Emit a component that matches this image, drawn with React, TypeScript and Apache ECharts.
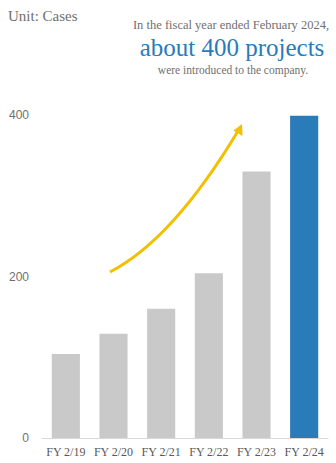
import React, { useEffect, useRef } from "react";
import * as echarts from "echarts";

const categories = ["FY 2/19", "FY 2/20", "FY 2/21", "FY 2/22", "FY 2/23", "FY 2/24"];
const values = [104, 129, 160, 204, 330, 399];
const barColors = ["#c9c9c9", "#c9c9c9", "#c9c9c9", "#c9c9c9", "#c9c9c9", "#2a7bba"];
const yTicks = [0, 200, 400];

export default function App() {
  const ref = useRef<HTMLDivElement>(null);
  useEffect(() => {
    if (!ref.current) return;
    const chart = echarts.init(ref.current, undefined, { renderer: "svg" });
    const serif = "Liberation Serif";
    const txt = (text: string, x: number, y: number, size: number, fill: string) => ({
      type: "text",
      x,
      y,
      style: {
        text,
        fill,
        fontFamily: serif,
        fontSize: size,
        textAlign: "center",
        textVerticalAlign: "middle",
      },
    });
    chart.setOption({
      animation: false,
      backgroundColor: "#ffffff",
      grid: { left: 42, right: 8, top: 115, bottom: 25, containLabel: false },
      xAxis: {
        type: "category",
        data: categories,
        axisLine: { show: true, lineStyle: { color: "#d9d9d9", width: 1 } },
        axisTick: { show: false },
        axisLabel: { color: "#595959", fontFamily: serif, fontSize: 12, margin: 8, interval: 0, hideOverlap: false },
      },
      yAxis: {
        type: "value",
        min: yTicks[0],
        max: yTicks[yTicks.length - 1],
        interval: 200,
        splitLine: { show: false },
        axisLine: { show: false },
        axisTick: { show: false },
        axisLabel: { color: "#6f6f6f", fontFamily: "Liberation Sans", fontSize: 12, margin: 13 },
      },
      series: [
        {
          type: "bar",
          data: values.map((v, i) => ({ value: v, itemStyle: { color: barColors[i] } })),
          barCategoryGap: "41%",
        },
      ],
      graphic: [
        {
          type: "text",
          x: 8,
          y: 16,
          style: { text: "Unit: Cases", fill: "#6f6f6f", fontFamily: serif, fontSize: 15, textAlign: "left", textVerticalAlign: "middle" },
        },
        txt("In the fiscal year ended February 2024,", 231, 25, 12.5, "#6f6f6f"),
        txt("about 400 projects", 232, 47, 25, "#2a7bba"),
        txt("were introduced to the company.", 233, 70, 11.5, "#6f6f6f"),
        {
          type: "bezierCurve",
          shape: { x1: 110, y1: 272, cpx1: 160, cpy1: 246, cpx2: 205, cpy2: 186, x2: 238, y2: 131 },
          style: { stroke: "#f2c000", lineWidth: 3, fill: "none" },
        },
        {
          type: "polygon",
          shape: { points: [[242, 124], [233.5, 130.5], [242.5, 136]] },
          style: { fill: "#f2c000" },
        },
      ],
    });
    return () => chart.dispose();
  }, []);
  return <div ref={ref} style={{ width: 336, height: 463, position: "fixed", left: 0, top: 0 }} />;
}
